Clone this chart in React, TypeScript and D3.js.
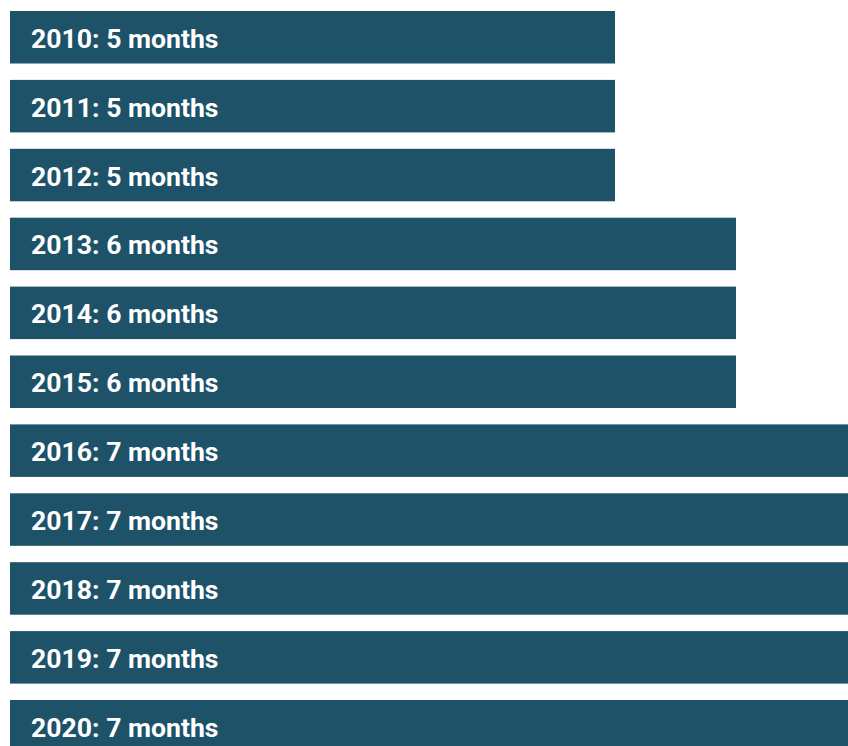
import React, { useEffect, useRef } from 'react';
import * as d3 from 'd3';

// Data
const years = ['2010', '2011', '2012', '2013', '2014', '2015', '2016', '2017', '2018', '2019', '2020'];
const months = [5, 5, 5, 6, 6, 6, 7, 7, 7, 7, 7];

const WIDTH = 848;
const HEIGHT = 746;

const App: React.FC = () => {
  const svgRef = useRef<SVGSVGElement | null>(null);

  useEffect(() => {
    if (!svgRef.current) return;
    const svg = d3.select(svgRef.current);
    svg.selectAll('*').remove();

    const left = 10;
    const top = 11;
    const step = 68.9;
    const pad = 0.238;

    const x = d3.scaleLinear().domain([0, 1]).range([0, 121]);
    // range length = step * (n - paddingInner) so step stays exact
    const y = d3.scaleBand<string>()
      .domain(years)
      .range([top, top + step * (years.length - pad)])
      .paddingInner(pad)
      .paddingOuter(0);

    const rows = svg.selectAll('g.row')
      .data(years.map((yr, i) => ({ year: yr, value: months[i] })))
      .enter()
      .append('g')
      .attr('class', 'row');

    rows.append('rect')
      .attr('x', left)
      .attr('y', d => y(d.year) || 0)
      .attr('width', d => x(d.value))
      .attr('height', y.bandwidth())
      .attr('fill', '#1e5269');

    rows.append('text')
      .attr('x', left + 21)
      .attr('y', d => (y(d.year) || 0) + y.bandwidth() / 2 + 10.5)
      .attr('fill', '#ffffff')
      .style('font-family', 'Roboto, sans-serif')
      .style('font-weight', 'bold')
      .style('font-size', '26.6px')
      .text(d => `${d.year}: ${d.value} months`);
  }, []);

  return (
    <div style={{ position: 'fixed', left: 0, top: 0, width: WIDTH, height: HEIGHT, overflow: 'hidden', background: '#fff' }}>
      <svg ref={svgRef} width={WIDTH} height={HEIGHT} style={{ display: 'block' }} />
    </div>
  );
};

export default App;
